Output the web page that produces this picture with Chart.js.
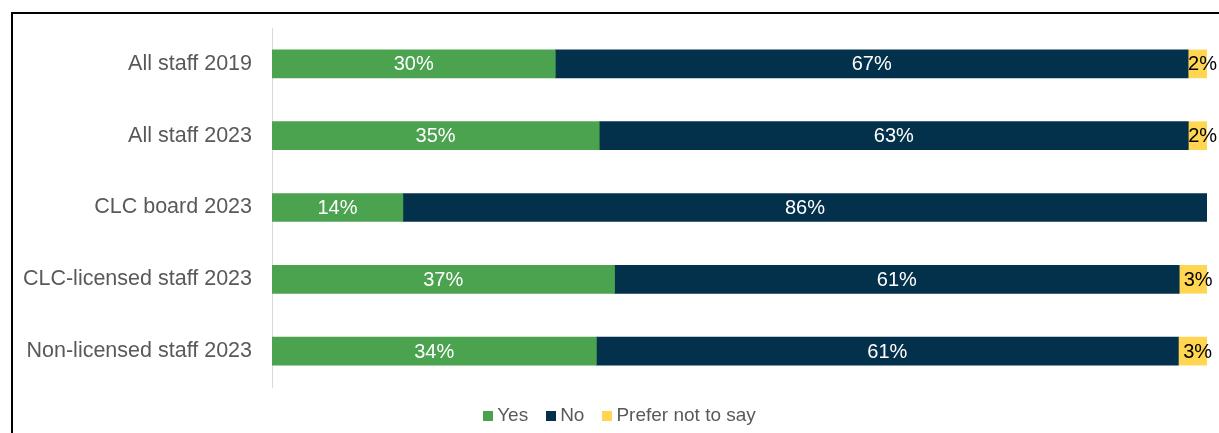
<!DOCTYPE html>
<html lang="en">
<head>
    <meta charset="UTF-8">
    <title>Staff survey</title>
    <script src="https://cdn.jsdelivr.net/npm/chart.js"></script>
    <style>
        html, body { margin: 0; padding: 0; background: #fff; }
        #frame { position: absolute; left: 11px; top: 12px; width: 1300px; height: 500px;
                 border-top: 2px solid #000; border-left: 2px solid #000; }
        #wrap { position: absolute; left: 0; top: 0; width: 1219px; height: 433px; }
        #legend { position: absolute; left: 0; top: 403px; width: 1239px; text-align: center;
                  font: 19px 'Liberation Sans', Arial, sans-serif; color: #595959; line-height: 24px; }
        #legend .item { display: inline-block; margin: 0 9px; }
        #legend .box { display: inline-block; width: 10px; height: 10px; margin-right: 4px; }
    </style>
</head>
<body>
    <div id="frame"></div>
    <div id="wrap"><canvas id="chart"></canvas></div>
    <div id="legend"></div>

    <script>
        // rounded percentages as shown on the bars
        const groups = ["All staff 2019", "All staff 2023", "CLC board 2023", "CLC-licensed staff 2023", "Non-licensed staff 2023"];
        const yes = [30, 35, 14, 37, 34];
        const no = [67, 63, 86, 61, 61];
        const preferNot = [2, 2, 0, 3, 3];

        const colors = { yes: "#4BA34F", no: "#03314B", prefer: "#FFD552" };
        const font = "'Liberation Sans', Arial, sans-serif";

        // bars are stretched to 100% of each row
        const totals = groups.map((g, i) => yes[i] + no[i] + preferNot[i]);
        const share = arr => arr.map((v, i) => v / totals[i] * 100);

        const barLabels = {
            id: "barLabels",
            afterDatasetsDraw(chart) {
                const ctx = chart.ctx;
                ctx.save();
                ctx.font = "20px " + font;
                ctx.textAlign = "center";
                ctx.textBaseline = "middle";
                chart.data.datasets.forEach((ds, di) => {
                    const meta = chart.getDatasetMeta(di);
                    meta.data.forEach((bar, i) => {
                        const v = ds.raw[i];
                        if (!v) return;
                        const cx = (bar.x + bar.base) / 2;
                        ctx.fillStyle = di === 2 ? "#000" : "#fff";
                        ctx.fillText(v + "%", di === 2 ? cx + 5 : cx, bar.y + 1);
                    });
                });
                ctx.restore();
            }
        };

        const chart = new Chart(document.getElementById("chart"), {
            type: "bar",
            data: {
                labels: groups,
                datasets: [
                    { label: "Yes", data: share(yes), raw: yes, backgroundColor: colors.yes },
                    { label: "No", data: share(no), raw: no, backgroundColor: colors.no },
                    { label: "Prefer not to say", data: share(preferNot), raw: preferNot, backgroundColor: colors.prefer }
                ]
            },
            options: {
                indexAxis: "y",
                responsive: true,
                maintainAspectRatio: false,
                animation: false,
                barThickness: 28,
                layout: { padding: { top: 28, right: 12, left: 0, bottom: 46 } },
                plugins: {
                    tooltip: { enabled: false },
                    legend: { display: false }
                },
                scales: {
                    x: { stacked: true, min: 0, max: 100, display: false },
                    y: {
                        stacked: true,
                        grid: { display: false },
                        border: { color: "#D9D9D9" },
                        ticks: {
                            color: "#595959", padding: 12,
                            font: { size: 21.5, family: font }
                        },
                        afterFit(scale) { scale.width = 272; }
                    }
                }
            },
            plugins: [barLabels]
        });

        // html legend, same order as the datasets
        document.getElementById("legend").innerHTML = chart.data.datasets.map(ds =>
            `<span class="item"><span class="box" style="background:${ds.backgroundColor}"></span>${ds.label}</span>`
        ).join("");
    </script>
</body>
</html>
